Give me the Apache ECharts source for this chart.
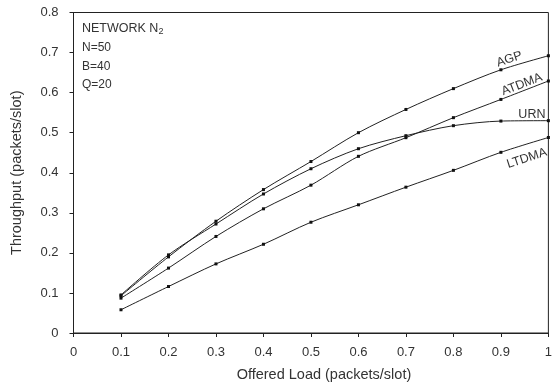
<!DOCTYPE html>
<html>
<head>
<meta charset="utf-8">
<script src="https://cdn.jsdelivr.net/npm/echarts@6/dist/echarts.min.js"></script>
<style>
  html, body { margin: 0; padding: 0; background: #fff; }
  #chart { width: 555px; height: 387px; }
</style>
</head>
<body>
<div id="chart"></div>
<script>
// Offered load (packets/slot)
const offeredLoad = [0.1, 0.2, 0.3, 0.4, 0.5, 0.6, 0.7, 0.8, 0.9, 1.0];

// Throughput (packets/slot) per protocol
const agp   = [0.093, 0.190, 0.279, 0.358, 0.428, 0.500, 0.558, 0.610, 0.657, 0.692];
const urn   = [0.095, 0.195, 0.272, 0.347, 0.410, 0.460, 0.4925, 0.5175, 0.529, 0.530];
const atdma = [0.087, 0.162, 0.241, 0.310, 0.369, 0.441, 0.4875, 0.5375, 0.583, 0.629];
const ltdma = [0.058, 0.116, 0.1725, 0.2215, 0.2765, 0.320, 0.364, 0.406, 0.451, 0.488];

const seriesNames = ['AGP', 'ATDMA', 'URN', 'LTDMA'];
const seriesValues = [agp, atdma, urn, ltdma];

// Curve labels sit next to the point at load 0.9; shift is in screen pixels,
// angle follows the local slope of each curve.
const labelIndex = 8;
const labelStyle = {
  AGP:   { shift: [8.5, -10.5], rotate: 18 },
  ATDMA: { shift: [21, -15],    rotate: 21 },
  URN:   { shift: [31, -7],     rotate: 0 },
  LTDMA: { shift: [26, 6],      rotate: 18 }
};

// Label offsets are applied in the rotated frame, so turn the screen shift back.
function rotatedOffset(shift, deg) {
  const t = deg * Math.PI / 180;
  const c = Math.cos(t), s = Math.sin(t);
  return [shift[0] * c - shift[1] * s, shift[0] * s + shift[1] * c];
}

const FONT = '"Liberation Sans", Arial, Helvetica, sans-serif';
const TEXT = '#333';
const LINE = '#222';

const chart = echarts.init(document.getElementById('chart'), null, { renderer: 'canvas' });

const series = seriesNames.map((name, s) => ({
  name,
  type: 'line',
  smooth: 0.3,
  symbol: 'rect',
  symbolSize: 3,
  showSymbol: true,
  lineStyle: { color: LINE, width: 1 },
  itemStyle: { color: '#111' },
  emphasis: { disabled: true },
  z: 3,
  data: seriesValues[s].map((v, i) => {
    const item = { value: [offeredLoad[i], v] };
    if (i === labelIndex) {
      const st = labelStyle[name];
      item.label = {
        show: true,
        formatter: name,
        position: 'inside',
        offset: rotatedOffset(st.shift, st.rotate),
        rotate: st.rotate,
        fontFamily: FONT,
        fontSize: 12.5,
        color: TEXT
      };
    }
    return item;
  })
}));

chart.setOption({
  animation: false,
  backgroundColor: '#fff',
  grid: {
    left: 73.5, right: 2, top: 12.5, bottom: 53.7,
    show: true, borderColor: LINE, borderWidth: 1
  },
  xAxis: {
    type: 'value',
    min: 0, max: 1, interval: 0.1,
    name: 'Offered Load (packets/slot)',
    nameLocation: 'middle',
    nameGap: 34,
    nameTextStyle: { fontFamily: FONT, fontSize: 14.5, color: TEXT, padding: [0, 0, 0, 26] },
    axisLine: { show: true, lineStyle: { color: LINE, width: 1 } },
    axisTick: { show: true, inside: false, length: 4, lineStyle: { color: LINE } },
    axisLabel: { fontFamily: FONT, fontSize: 13, color: TEXT, margin: 13 },
    splitLine: { show: false }
  },
  yAxis: {
    type: 'value',
    min: 0, max: 0.8, interval: 0.1,
    name: 'Throughput (packets/slot)',
    nameLocation: 'middle',
    nameGap: 49,
    nameTextStyle: { fontFamily: FONT, fontSize: 14.5, color: TEXT },
    axisLine: { show: true, lineStyle: { color: LINE, width: 1 } },
    axisTick: { show: true, inside: false, length: 4, lineStyle: { color: LINE } },
    axisLabel: { fontFamily: FONT, fontSize: 13, color: TEXT, margin: 15 },
    splitLine: { show: false }
  },
  graphic: [
    {
      type: 'text',
      left: 82, top: 22,
      style: {
        text: '{n|NETWORK N}{s|2}',
        rich: {
          n: { fontFamily: FONT, fontSize: 12.5, fill: TEXT },
          s: { fontFamily: FONT, fontSize: 9, fill: TEXT, padding: [7, 0, 0, 0] }
        }
      }
    },
    {
      type: 'text',
      left: 82, top: 39,
      style: {
        text: 'N=50\nB=40\nQ=20',
        fontFamily: FONT, fontSize: 12, lineHeight: 18.3, fill: TEXT
      }
    }
  ],
  series
});
</script>
</body>
</html>
